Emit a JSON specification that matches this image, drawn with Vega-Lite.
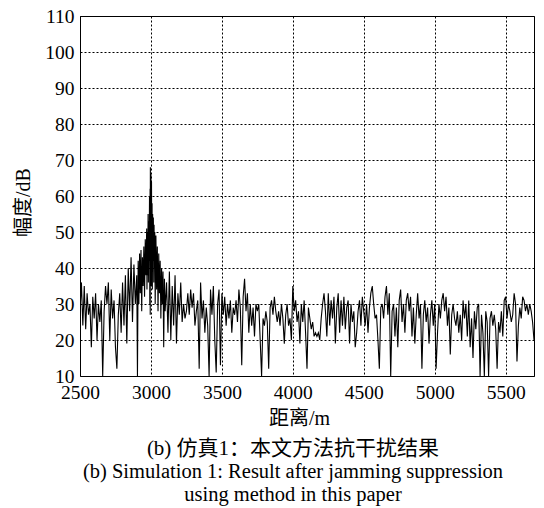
{
  "$schema": "https://vega.github.io/schema/vega-lite/v6.json",
  "width": 454,
  "height": 360,
  "autosize": {"type": "none"},
  "padding": {"left": 80, "top": 16, "right": 10, "bottom": 132},
  "background": "white",
  "title": {
    "text": "(b) 仿真1：本文方法抗干扰结果",
    "subtitle": ["(b) Simulation 1: Result after jamming suppression", "using method in this paper"],
    "orient": "bottom",
    "anchor": "middle",
    "dx": -14,
    "offset": 10,
    "font": "Liberation Serif, Noto Sans CJK SC",
    "fontSize": 21,
    "fontWeight": "normal",
    "color": "black",
    "subtitleFont": "Liberation Serif",
    "subtitleFontSize": 20.5,
    "subtitleColor": "black",
    "subtitleLineHeight": 23,
    "subtitlePadding": 3
  },
  "data": {"values": [
    {"r":2500,"a":28},{"r":2510,"a":36},{"r":2520,"a":24},{"r":2530,"a":35},{"r":2540,"a":23},{"r":2550,"a":33},{"r":2560,"a":27},{"r":2570,"a":30},{"r":2580,"a":18},{"r":2590,"a":32},
    {"r":2600,"a":26},{"r":2610,"a":33},{"r":2620,"a":20},{"r":2630,"a":30},{"r":2640,"a":25},{"r":2650,"a":31},{"r":2660,"a":10},{"r":2670,"a":28},{"r":2680,"a":35},{"r":2690,"a":30},
    {"r":2700,"a":36},{"r":2710,"a":20},{"r":2720,"a":34},{"r":2730,"a":26},{"r":2740,"a":31},{"r":2750,"a":18},{"r":2760,"a":12},{"r":2770,"a":27},{"r":2780,"a":33},{"r":2790,"a":22},
    {"r":2800,"a":36},{"r":2810,"a":24},{"r":2820,"a":38},{"r":2830,"a":19},{"r":2840,"a":40},{"r":2850,"a":28},{"r":2860,"a":43},{"r":2870,"a":25},{"r":2880,"a":41},{"r":2890,"a":30},
    {"r":2900,"a":38},{"r":2905,"a":10},{"r":2910,"a":42},{"r":2915,"a":30},{"r":2920,"a":44},{"r":2925,"a":33},{"r":2930,"a":45},{"r":2935,"a":28},{"r":2940,"a":43},{"r":2945,"a":35},
    {"r":2950,"a":46},{"r":2955,"a":32},{"r":2960,"a":48},{"r":2965,"a":38},
    {"r":2970,"a":51},{"r":2972,"a":34},{"r":2975,"a":50},{"r":2977,"a":38},{"r":2980,"a":55},{"r":2982,"a":36},{"r":2985,"a":53},{"r":2987,"a":42},{"r":2990,"a":60},{"r":2992,"a":30},
    {"r":2994,"a":62},{"r":2995,"a":27},{"r":2996,"a":68},{"r":2998,"a":45},{"r":3000,"a":66},{"r":3002,"a":35},{"r":3004,"a":64},{"r":3006,"a":40},{"r":3008,"a":58},{"r":3010,"a":34},
    {"r":3012,"a":55},{"r":3015,"a":42},{"r":3017,"a":54},{"r":3020,"a":36},{"r":3022,"a":52},{"r":3025,"a":40},{"r":3027,"a":50},{"r":3030,"a":30},{"r":3035,"a":49},{"r":3040,"a":34},
    {"r":3045,"a":46},{"r":3050,"a":28},{"r":3055,"a":44},{"r":3060,"a":33},{"r":3065,"a":42},{"r":3070,"a":26},{"r":3075,"a":40},{"r":3080,"a":30},{"r":3085,"a":39},{"r":3090,"a":18},
    {"r":3095,"a":37},{"r":3100,"a":28},{"r":3110,"a":36},{"r":3120,"a":22},{"r":3130,"a":39},{"r":3140,"a":20},{"r":3150,"a":35},{"r":3160,"a":24},{"r":3170,"a":38},{"r":3180,"a":19},
    {"r":3190,"a":33},{"r":3200,"a":27},{"r":3210,"a":36},{"r":3220,"a":25},{"r":3230,"a":30},{"r":3240,"a":26},{"r":3250,"a":28},{"r":3260,"a":33},{"r":3270,"a":27},{"r":3280,"a":34},
    {"r":3290,"a":29},{"r":3300,"a":33},{"r":3310,"a":24},{"r":3320,"a":28},{"r":3330,"a":31},{"r":3340,"a":12},{"r":3350,"a":36},{"r":3360,"a":26},{"r":3370,"a":31},{"r":3380,"a":22},
    {"r":3390,"a":29},{"r":3400,"a":24},{"r":3410,"a":10},{"r":3420,"a":34},{"r":3430,"a":27},{"r":3440,"a":35},{"r":3450,"a":20},{"r":3460,"a":11},{"r":3470,"a":30},{"r":3480,"a":34},
    {"r":3490,"a":13},{"r":3500,"a":33},{"r":3510,"a":27},{"r":3520,"a":32},{"r":3530,"a":24},{"r":3540,"a":30},{"r":3550,"a":26},{"r":3560,"a":31},{"r":3570,"a":22},{"r":3580,"a":29},
    {"r":3590,"a":27},{"r":3600,"a":31},{"r":3610,"a":25},{"r":3620,"a":34},{"r":3630,"a":29},{"r":3640,"a":13},{"r":3650,"a":32},{"r":3660,"a":37},{"r":3670,"a":28},{"r":3680,"a":33},
    {"r":3690,"a":22},{"r":3700,"a":30},{"r":3710,"a":24},{"r":3720,"a":29},{"r":3730,"a":21},{"r":3740,"a":30},{"r":3750,"a":28},{"r":3760,"a":30},{"r":3770,"a":20},{"r":3780,"a":10},
    {"r":3790,"a":26},{"r":3800,"a":24},{"r":3810,"a":28},{"r":3820,"a":25},{"r":3830,"a":12},{"r":3840,"a":29},{"r":3850,"a":31},{"r":3860,"a":27},{"r":3870,"a":32},{"r":3880,"a":28},
    {"r":3890,"a":25},{"r":3900,"a":28},{"r":3910,"a":24},{"r":3920,"a":30},{"r":3930,"a":26},{"r":3940,"a":19},{"r":3950,"a":27},{"r":3960,"a":30},{"r":3970,"a":24},{"r":3980,"a":26},
    {"r":3990,"a":20},{"r":4000,"a":35},{"r":4010,"a":28},{"r":4020,"a":31},{"r":4030,"a":25},{"r":4040,"a":28},{"r":4050,"a":19},{"r":4060,"a":30},{"r":4070,"a":25},{"r":4080,"a":31},
    {"r":4090,"a":22},{"r":4100,"a":12},{"r":4110,"a":29},{"r":4120,"a":26},{"r":4130,"a":23},{"r":4140,"a":25},{"r":4150,"a":21},{"r":4160,"a":22},{"r":4170,"a":21},{"r":4180,"a":22},
    {"r":4190,"a":20},{"r":4200,"a":26},{"r":4210,"a":30},{"r":4220,"a":33},{"r":4230,"a":28},{"r":4240,"a":21},{"r":4250,"a":33},{"r":4260,"a":24},{"r":4270,"a":31},{"r":4280,"a":26},
    {"r":4290,"a":32},{"r":4300,"a":19},{"r":4310,"a":29},{"r":4320,"a":33},{"r":4330,"a":22},{"r":4340,"a":31},{"r":4350,"a":24},{"r":4360,"a":32},{"r":4370,"a":23},{"r":4380,"a":29},
    {"r":4390,"a":31},{"r":4400,"a":19},{"r":4410,"a":30},{"r":4420,"a":25},{"r":4430,"a":28},{"r":4440,"a":18},{"r":4450,"a":22},{"r":4460,"a":28},{"r":4470,"a":31},{"r":4480,"a":24},
    {"r":4490,"a":32},{"r":4500,"a":28},{"r":4510,"a":24},{"r":4520,"a":30},{"r":4530,"a":22},{"r":4540,"a":29},{"r":4550,"a":33},{"r":4560,"a":35},{"r":4570,"a":30},{"r":4580,"a":26},
    {"r":4590,"a":27},{"r":4600,"a":20},{"r":4610,"a":12},{"r":4620,"a":29},{"r":4630,"a":30},{"r":4640,"a":26},{"r":4650,"a":32},{"r":4660,"a":35},{"r":4670,"a":27},{"r":4680,"a":33},
    {"r":4690,"a":10},{"r":4700,"a":28},{"r":4710,"a":30},{"r":4720,"a":21},{"r":4730,"a":29},{"r":4740,"a":18},{"r":4750,"a":31},{"r":4760,"a":34},{"r":4770,"a":25},{"r":4780,"a":30},
    {"r":4790,"a":22},{"r":4800,"a":31},{"r":4810,"a":33},{"r":4820,"a":28},{"r":4830,"a":32},{"r":4840,"a":21},{"r":4850,"a":29},{"r":4860,"a":19},{"r":4870,"a":27},{"r":4880,"a":33},
    {"r":4890,"a":26},{"r":4900,"a":30},{"r":4910,"a":12},{"r":4920,"a":27},{"r":4930,"a":31},{"r":4940,"a":25},{"r":4950,"a":29},{"r":4960,"a":19},{"r":4970,"a":27},{"r":4980,"a":31},
    {"r":4990,"a":24},{"r":5000,"a":30},{"r":5010,"a":12},{"r":5020,"a":22},{"r":5030,"a":30},{"r":5040,"a":26},{"r":5050,"a":31},{"r":5060,"a":33},{"r":5070,"a":28},{"r":5080,"a":32},
    {"r":5090,"a":24},{"r":5100,"a":29},{"r":5110,"a":16},{"r":5120,"a":27},{"r":5130,"a":30},{"r":5140,"a":26},{"r":5150,"a":24},{"r":5160,"a":28},{"r":5170,"a":22},{"r":5180,"a":27},
    {"r":5190,"a":20},{"r":5200,"a":31},{"r":5210,"a":26},{"r":5220,"a":30},{"r":5230,"a":21},{"r":5240,"a":31},{"r":5250,"a":18},{"r":5260,"a":26},{"r":5270,"a":15},{"r":5280,"a":28},
    {"r":5290,"a":23},{"r":5300,"a":29},{"r":5310,"a":30},{"r":5320,"a":10},{"r":5330,"a":27},{"r":5340,"a":22},{"r":5350,"a":10},{"r":5360,"a":28},{"r":5370,"a":25},{"r":5380,"a":10},
    {"r":5390,"a":26},{"r":5400,"a":28},{"r":5410,"a":24},{"r":5420,"a":27},{"r":5430,"a":23},{"r":5440,"a":12},{"r":5450,"a":25},{"r":5460,"a":22},{"r":5470,"a":28},{"r":5480,"a":21},
    {"r":5490,"a":31},{"r":5500,"a":32},{"r":5510,"a":26},{"r":5520,"a":30},{"r":5530,"a":28},{"r":5540,"a":25},{"r":5550,"a":27},{"r":5560,"a":33},{"r":5570,"a":30},{"r":5580,"a":14},
    {"r":5590,"a":24},{"r":5600,"a":29},{"r":5610,"a":26},{"r":5620,"a":32},{"r":5630,"a":31},{"r":5640,"a":28},{"r":5650,"a":30},{"r":5660,"a":27},{"r":5670,"a":30},{"r":5680,"a":28},
    {"r":5690,"a":25},{"r":5700,"a":20}
  ]},
  "mark": {"type": "line", "color": "black", "strokeWidth": 1.1, "clip": true},
  "encoding": {
    "x": {
      "field": "r", "type": "quantitative",
      "scale": {"domain": [2500, 5700], "nice": false, "zero": false},
      "axis": {
        "title": "距离/m",
        "format": "d",
        "values": [2500, 3000, 3500, 4000, 4500, 5000, 5500],
        "labelFlush": false,
        "labelPadding": 7,
        "labelFont": "Liberation Serif",
        "labelFontSize": 19.5,
        "titleFont": "Liberation Serif, Noto Sans CJK SC",
        "titleFontSize": 20,
        "titleY": 48,
        "titleX": 219,
        "titleBaseline": "alphabetic"
      }
    },
    "y": {
      "field": "a", "type": "quantitative",
      "scale": {"domain": [10, 110], "nice": false, "zero": false},
      "axis": {
        "title": "幅度/dB",
        "format": "d",
        "values": [10, 20, 30, 40, 50, 60, 70, 80, 90, 100, 110],
        "labelPadding": 6,
        "labelFont": "Liberation Serif",
        "labelFontSize": 19.5,
        "titleFont": "Liberation Serif, Noto Sans CJK SC",
        "titleFontSize": 20,
        "titleX": -47,
        "titleY": 186
      }
    }
  },
  "config": {
    "font": "Liberation Serif",
    "view": {"stroke": "black", "strokeWidth": 1},
    "axis": {
      "grid": true,
      "gridColor": "black",
      "gridDash": [2, 2],
      "gridOpacity": 1,
      "gridWidth": 1,
      "domain": false,
      "ticks": false,
      "labelColor": "black",
      "titleFontWeight": "normal",
      "titleColor": "black"
    }
  }
}
